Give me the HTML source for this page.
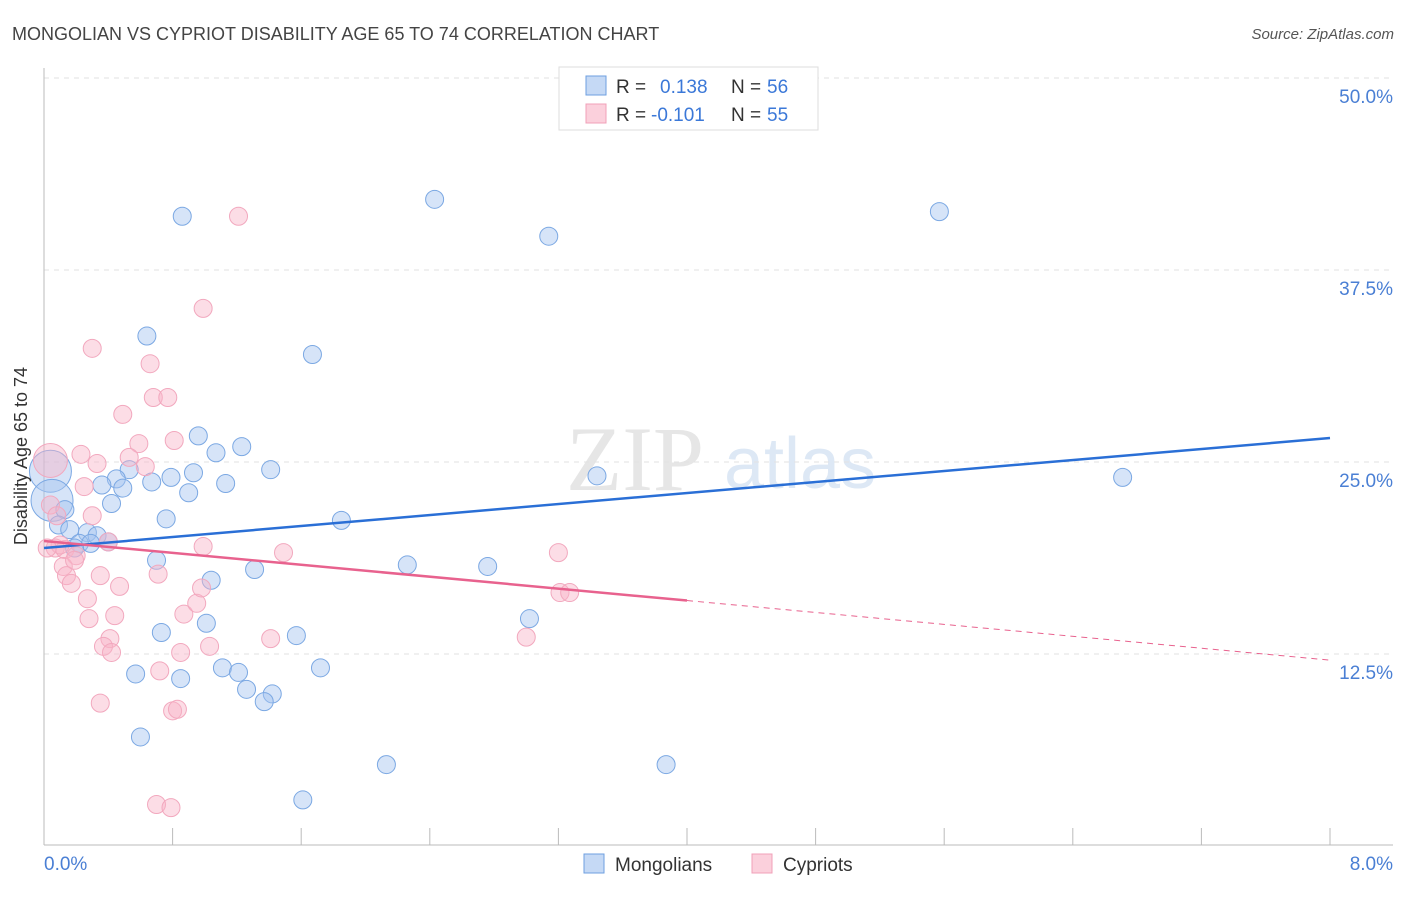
<!DOCTYPE html>
<html><head><meta charset="utf-8"><style>
body{margin:0;background:#fff;font-family:"Liberation Sans",sans-serif}
</style></head><body>
<svg id="chart" width="1406" height="892" xmlns="http://www.w3.org/2000/svg" font-family="Liberation Sans, sans-serif">
<text x="12" y="40" font-size="18" fill="#444">MONGOLIAN VS CYPRIOT DISABILITY AGE 65 TO 74 CORRELATION CHART</text>
<text x="1394" y="39" font-size="15" fill="#555" font-style="italic" text-anchor="end">Source: ZipAtlas.com</text>
<g>
<text x="635" y="490" font-size="92" fill="#e6e6e6" font-family="Liberation Serif, serif" text-anchor="middle">ZIP</text>
<text x="800" y="488" font-size="72" fill="#dde8f5" text-anchor="middle">atlas</text>
</g>
<g id="grid"></g>
<g id="axes"></g>
<g id="marks"></g>
<text transform="translate(27,456) rotate(-90)" font-size="18" fill="#333" text-anchor="middle">Disability Age 65 to 74</text>
<g>
<rect x="559" y="67" width="259" height="63" fill="#fff" stroke="#ddd"/>
<rect x="586" y="76" width="20" height="19" fill="#c5d9f5" stroke="#6e9fe0"/>
<rect x="586" y="104" width="20" height="19" fill="#fbd0dc" stroke="#f0a0b8"/>
<text x="616" y="93" font-size="19" fill="#333">R =</text><text x="660" y="93" font-size="19" fill="#3b78d8">0.138</text>
<text x="731" y="93" font-size="19" fill="#333">N =</text><text x="767" y="93" font-size="19" fill="#3b78d8">56</text>
<text x="616" y="121" font-size="19" fill="#333">R =</text><text x="651" y="121" font-size="19" fill="#3b78d8">-0.101</text>
<text x="731" y="121" font-size="19" fill="#333">N =</text><text x="767" y="121" font-size="19" fill="#3b78d8">55</text>
</g>
<g>
<rect x="584" y="854" width="20" height="19" fill="#c5d9f5" stroke="#6e9fe0"/>
<text x="615" y="871" font-size="19" fill="#333">Mongolians</text>
<rect x="752" y="854" width="20" height="19" fill="#fbd0dc" stroke="#f0a0b8"/>
<text x="783" y="871" font-size="19" fill="#333">Cypriots</text>
</g>
</svg>
<script>
const yTicks=[12.5,25,37.5,50];
const yTickLabels=["12.5%","25.0%","37.5%","50.0%"];
const xTickLabels=["0.0%","8.0%"];
const mongX=[0.86,2.43,3.14,5.57,0.64,1.67,0.96,1.23,1.07,0.53,0.93,1.41,0.45,0.67,0.79,0.36,0.49,1.13,0.90,3.44,6.71,0.42,0.13,0.76,1.85,0.09,0.16,0.27,0.33,0.22,0.29,0.40,0.19,0.70,1.04,1.31,2.26,2.76,3.02,1.01,0.73,1.57,0.57,0.85,1.11,1.21,1.72,1.26,1.42,1.37,0.60,2.13,3.87,1.61];
const mongY=[41.0,42.1,39.7,41.3,33.2,32.0,26.7,26.0,25.6,24.5,24.3,24.5,23.9,23.7,24.0,23.5,23.3,23.6,23.0,24.1,24.0,22.3,21.9,21.3,21.2,20.9,20.6,20.4,20.2,19.7,19.7,19.8,19.4,18.6,17.3,18.0,18.3,18.2,14.8,14.5,13.9,13.7,11.2,10.9,11.6,11.3,11.6,10.2,9.9,9.4,7.1,5.3,5.3,3.0];
const mongBigX=[0.04,0.05];
const mongBigY=[24.4,22.5];
const cypX=[1.21,0.99,0.30,0.66,0.68,0.77,0.49,0.81,0.59,0.23,0.33,0.53,0.63,0.25,0.04,0.30,0.08,0.07,0.13,0.20,0.12,0.14,0.17,0.71,0.99,1.49,3.20,0.19,0.47,0.27,0.44,0.87,0.95,0.98,0.28,0.41,0.37,0.42,0.85,1.03,1.41,3.00,3.21,3.27,0.72,0.35,0.80,0.83,0.70,0.79,0.40,0.10,0.02,0.35];
const cypY=[41.0,35.0,32.4,31.4,29.2,29.2,28.1,26.4,26.2,25.5,24.9,25.3,24.7,23.4,22.2,21.5,21.5,19.4,19.3,18.9,18.2,17.6,17.1,17.7,19.5,19.1,19.1,18.6,16.9,16.1,15.0,15.1,15.8,16.8,14.8,13.5,13.0,12.6,12.6,13.0,13.5,13.6,16.5,16.5,11.4,9.3,8.8,8.9,2.7,2.5,19.8,19.6,19.4,17.6];
const cypBigX=[0.04];
const cypBigY=[25.1];
const mongTrend=[19.4,26.56];
const cypTrend=[19.86,12.1];
const cypSolidEnd=4.0;
const NS="http://www.w3.org/2000/svg";
const X=v=>44+v/8*1286;
const Y=v=>846-v/12.5*192;
function mk(parent,tag,attrs){const e=document.createElementNS(NS,tag);for(const k in attrs)e.setAttribute(k,attrs[k]);document.getElementById(parent).appendChild(e);return e;}
yTicks.forEach((t,i)=>{
 const g=mk('grid','line',{x1:44,x2:1393,y1:Y(t),y2:Y(t),stroke:'#e2e2e2','stroke-dasharray':'5,5'});
 
 
 const l=mk('grid','text',{x:1393,y:Y(t)+25,'font-size':19,fill:'#4a7fd4','text-anchor':'end'});
 l.textContent=yTickLabels[i];
 
 
});
const ax=mk('axes','line',{x1:44,x2:44,y1:68,y2:845,stroke:'#bbb'});


const bx=mk('axes','line',{x1:44,x2:1393,y1:845,y2:845,stroke:'#bbb'});


for(let i=1;i<=10;i++){const v=i*0.8;const t=mk('axes','line',{x1:X(v),x2:X(v),y1:828,y2:845,stroke:'#bbb'});
 
 }
[[0,'start',44],[8,'end',1393]].forEach((a,i)=>{const t=mk('axes','text',{x:a[2],y:870,'font-size':19,fill:'#4a7fd4','text-anchor':a[1]});t.textContent=xTickLabels[i];
 
 });
function pts(xs,ys,r,fill,stroke,name){xs.forEach((x,i)=>{const c=mk('marks','circle',{cx:X(x),cy:Y(ys[i]),r:r,fill:fill,stroke:stroke,'stroke-width':1});
 
 });}
pts(mongBigX,mongBigY,21,'rgba(163,196,240,0.45)','#7ba8e3','mongolian-point');
pts(cypBigX,cypBigY,17,'rgba(248,180,200,0.45)','#f2a8be','cypriot-point');
pts(mongX,mongY,9,'rgba(163,196,240,0.45)','#7ba8e3','mongolian-point');
pts(cypX,cypY,9,'rgba(248,180,200,0.45)','#f2a8be','cypriot-point');
const bl=mk('marks','line',{x1:X(0),y1:Y(mongTrend[0]),x2:X(8),y2:Y(mongTrend[1]),stroke:'#2a6fd6','stroke-width':2.5});


const ym=cypTrend[0]+(cypTrend[1]-cypTrend[0])*cypSolidEnd/8;
const pl=mk('marks','line',{x1:X(0),y1:Y(cypTrend[0]),x2:X(cypSolidEnd),y2:Y(ym),stroke:'#e8628e','stroke-width':2.5});


const pd=mk('marks','line',{x1:X(cypSolidEnd),y1:Y(ym),x2:X(8),y2:Y(cypTrend[1]),stroke:'#e8628e','stroke-width':1,'stroke-dasharray':'6,5'});


</script>
</body></html>
